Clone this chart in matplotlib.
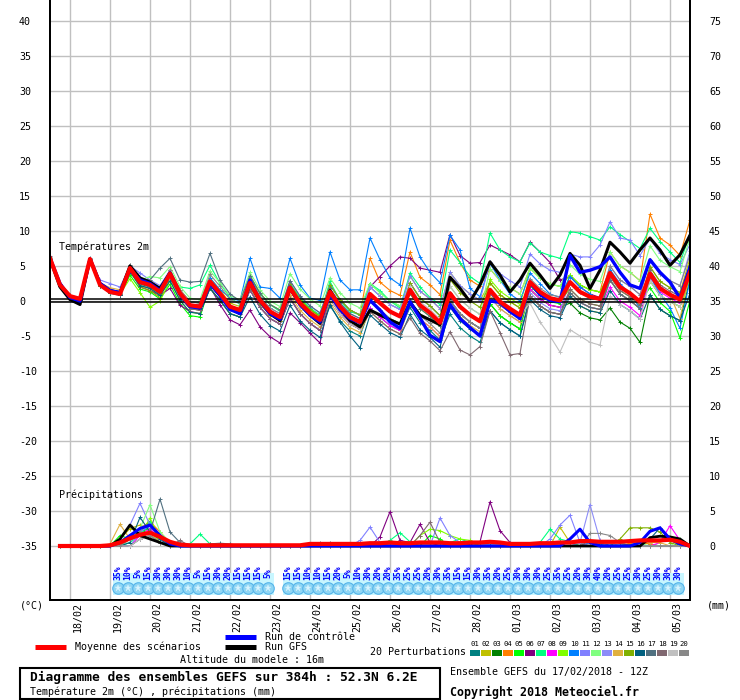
import matplotlib
matplotlib.use('Agg')
import matplotlib.pyplot as plt
from matplotlib.lines import Line2D
from matplotlib.patches import Rectangle

plt.rcParams['font.family'] = ['DejaVu Sans Mono', 'DejaVu Sans']

# ---------------- data ----------------
dates = ['18/02', '19/02', '20/02', '21/02', '22/02', '23/02', '24/02', '25/02',
         '26/02', '27/02', '28/02', '01/03', '02/03', '03/03', '04/03', '05/03']

member_colors = ['#008080', '#c0c000', '#008000', '#ff8000', '#00ff00', '#800080',
                 '#00ff80', '#ff00ff', '#80ff00', '#0080ff', '#8080ff', '#80ff80',
                 '#8c8cf8', '#e0b040', '#80b000', '#006080', '#507080', '#806870',
                 '#c0c0c0', '#888888']

# temperature, every 6 h from 17/02 12Z to 05/03 12Z (65 values)
t_mean = [6.1, 2.3, 0.7, 0.3, 6.0, 2.3, 1.3, 1.0, 4.7, 2.7, 2.3, 1.3, 3.9, 1.1, -0.6, -0.8,
          2.8, 1.1, -0.8, -1.3, 2.6, 0.1, -1.5, -2.3, 1.9, -0.3, -1.7, -2.7, 1.3, -0.8, -2.3, -3.0,
          1.0, -0.3, -1.5, -2.2, 1.6, -0.6, -1.7, -3.1, 1.1, -0.8, -2.0, -2.9, 1.6, -0.1, -1.1, -2.0,
          2.7, 1.3, 0.4, 0.1, 2.7, 1.3, 0.6, 0.3, 4.0, 2.0, 1.1, -0.1, 3.9, 1.8, 0.9, 0.2, 4.1]
t_ctrl = [6.1, 2.5, 0.5, 0.0, 6.0, 2.5, 1.5, 1.2, 4.5, 3.0, 2.5, 1.5, 4.0, 1.0, -0.8, -1.0,
          2.5, 0.8, -1.2, -1.8, 3.0, 0.0, -1.8, -2.6, 2.0, -0.5, -2.0, -3.0, 1.0, -1.2, -2.5, -3.1,
          0.1, -1.3, -3.0, -3.9, -0.1, -2.4, -4.9, -5.8, -0.5, -2.5, -3.8, -5.0, 0.0, -0.2, -1.5, -2.5,
          2.6, 0.9, 0.1, -0.1, 6.5, 4.1, 4.4, 4.9, 6.3, 4.1, 2.3, 1.8, 5.9, 4.1, 2.7, 0.4, 4.9]
t_gfs = [6.0, 2.0, 0.2, -0.5, 6.0, 2.5, 1.5, 1.2, 5.0, 3.3, 2.7, 1.8, 4.0, 1.0, -0.7, -1.0,
         2.6, 0.8, -1.0, -1.8, 2.5, 0.0, -1.8, -2.8, 1.8, -0.5, -2.0, -3.2, 1.5, -1.0, -2.8, -3.7,
         -1.3, -2.0, -2.7, -3.3, -0.2, -2.0, -2.7, -3.4, 3.4, 1.8, -0.1, 2.3, 5.6, 3.7, 1.3, 3.0,
         5.4, 3.7, 1.8, 3.7, 6.8, 5.1, 1.8, 4.4, 8.4, 7.0, 5.4, 7.3, 9.0, 7.3, 5.1, 6.6, 9.4]

t_p01 = [6.0,2.2,0.6,0.2, 5.9,2.2,1.1,0.8, 4.4,2.4,2.0,1.0, 3.4,0.6,-1.1,-1.3, 1.8,0.1,-1.8,-2.3, 1.6,-0.9,-2.5,-3.3, 0.4,-1.8,-3.2,-4.2, -0.7,-2.8,-4.3,-5.0, -1.0,-2.3,-3.5,-4.2, -0.9,-3.1,-4.2,-5.6, -1.9,-3.8,-5.0,-5.9, -1.4,-3.1,-4.1,-5.0, 0.7,-0.7,-1.6,-1.9, 1.2,-0.2,-0.9,-1.2, 3.0,1.0,0.1,-1.1, 2.9,0.8,-0.1,-0.8, 3.1]
t_p02 = [6.2,2.4,0.8,0.4, 6.1,2.4,1.4,1.1, 5.2,3.2,2.8,1.8, 3.9,1.1,-0.6,-0.8, 3.3,1.6,-0.3,-0.8, 3.6,1.1,-0.5,-1.3, 2.4,0.2,-1.2,-2.2, 1.3,-0.8,-2.3,-3.0, 2.0,0.7,-0.5,-1.2, 3.6,1.4,0.3,-1.1, 4.1,2.2,1.0,0.1, 2.6,0.9,-0.1,-1.0, 1.7,0.3,-0.6,-0.9, 0.7,-0.7,-1.4,-1.7, 4.0,2.0,1.1,-0.1, 4.9,2.8,1.9,1.2, 6.1]
t_p03 = [6.1,2.4,0.7,0.2, 6.0,2.3,1.3,1.0, 4.2,2.2,1.8,0.8, 3.9,1.1,-0.6,-0.8, 2.3,0.6,-1.3,-1.8, 1.6,-0.9,-2.5,-3.3, 0.4,-1.8,-3.2,-4.2, 0.3,-1.8,-3.3,-4.0, 1.0,-0.3,-1.5,-2.2, 2.6,0.4,-0.7,-2.1, 0.1,-1.8,-3.0,-3.9, -0.4,-2.1,-3.1,-4.0, 1.7,0.3,-0.6,-0.9, -0.3,-1.7,-2.4,-2.7, -1.0,-3.0,-3.9,-5.9, 0.9,-1.2,-2.1,-2.8, 3.1]
t_p04 = [6.1,2.3,0.8,0.4, 6.0,2.4,1.3,1.1, 5.0,3.0,2.6,1.6, 4.4,1.6,-0.1,-0.3, 2.8,1.1,-0.8,-1.3, 2.1,-0.4,-2.0,-2.8, 1.9,-0.3,-1.7,-2.7, 2.3,0.2,-1.3,-2.0, 6.1,2.7,1.5,0.8, 7.0,3.4,2.3,0.9, 8.7,5.5,3.0,2.1, 4.6,2.9,1.9,1.0, 4.7,3.3,2.4,2.1, 3.7,2.3,1.6,1.3, 7.0,5.0,4.1,2.9, 12.4,9.0,8.0,6.5, 11.6]
t_p05 = [6.0,2.3,0.7,0.3, 6.0,2.2,1.2,0.9, 3.7,1.7,1.3,0.3, 2.4,-0.4,-2.1,-2.3, 2.3,0.6,-1.3,-1.8, 2.6,0.1,-1.5,-2.3, 2.4,0.2,-1.2,-2.2, 2.3,0.2,-1.3,-2.0, 2.5,1.2,0.0,-0.7, 1.6,-0.6,-1.7,-3.1, 0.1,-1.8,-3.0,-3.9, -0.4,-2.1,-3.1,-4.0, 2.2,0.8,-0.1,-0.4, 3.7,2.3,1.6,1.3, 4.0,2.0,1.1,-0.1, 1.9,-0.2,-1.5,-5.3, 0.1]
t_p06 = [6.1,2.2,0.6,0.2, 6.0,2.3,1.2,0.9, 4.3,2.0,1.5,0.8, 1.8,-0.6,-1.5,-1.8, 2.0,-0.5,-2.7,-3.4, -1.3,-3.7,-5.1,-6.0, -1.7,-3.1,-4.6,-6.0, 0.5,-1.5,-3.0,-3.5, 2.0,3.5,5.0,6.3, 6.1,4.7,4.4,4.1, 9.5,6.5,5.4,5.5, 8.0,7.3,6.6,5.6, 8.4,7.0,5.5,3.0, 3.5,2.0,1.0,0.5, 3.0,1.0,0.0,-1.0, 4.0,2.0,1.0,0.5, 5.0]
t_p07 = [6.1,2.4,0.8,0.4, 6.0,2.3,1.3,1.0, 4.5,2.8,2.5,1.5, 3.3,2.0,1.8,2.3, 5.1,2.5,0.5,-0.5, 3.5,1.0,-0.5,-1.5, 2.5,0.5,-1.0,-2.0, 2.8,0.0,-1.5,-2.0, 2.5,1.5,0.0,-1.0, 4.0,2.0,0.5,-0.5, 7.3,5.5,3.5,2.5, 9.7,7.3,6.3,5.6, 8.3,7.0,6.5,6.1, 9.9,9.7,9.2,8.7, 10.6,9.5,8.5,7.5, 10.4,8.5,7.0,5.5, 9.5]
t_p08 = [6.1,2.3,0.7,0.3, 6.0,2.3,1.3,1.0, 5.0,2.7,2.2,1.3, 4.5,0.6,-1.1,-1.3, 2.3,0.6,-1.3,-1.8, 1.6,-0.9,-2.5,-3.3, 0.4,-1.8,-3.2,-4.2, 0.3,-1.8,-3.3,-4.0, -1.0,-2.3,-3.5,-4.2, -0.4,-2.6,-3.7,-5.1, 0.1,-1.8,-3.0,-3.9, 1.1,-0.6,-1.6,-2.5, 1.7,0.3,-0.6,-0.9, 1.2,-0.2,-0.9,-1.2, 2.0,0.0,-0.9,-2.1, 3.4,1.3,0.4,-0.3, 4.1]
t_p09 = [6.0,2.3,0.6,0.3, 6.0,2.2,1.2,1.0, 3.2,1.2,-0.9,0.0, 2.9,0.1,-1.6,-1.8, 2.8,1.1,-0.8,-1.3, 3.6,1.1,-0.5,-1.3, 2.4,0.2,-1.2,-2.2, 1.3,-0.8,-2.3,-3.0, 0.0,-1.3,-2.5,-3.2, 1.1,-1.1,-2.2,-3.6, 1.1,-0.8,-2.0,-2.9, 3.1,1.4,0.4,-0.5, 4.7,3.3,2.4,2.1, 3.7,2.3,1.6,1.3, 4.0,2.0,1.1,-0.1, 2.9,0.8,-0.1,-0.8, 3.1]
t_p10 = [6.0,2.3,0.7,0.3, 6.1,2.4,1.4,1.1, 5.0,3.0,2.5,1.5, 4.0,1.0,-0.5,-0.5, 3.3,1.6,0.5,0.0, 6.1,2.0,1.8,0.4, 6.1,2.3,0.4,0.1, 7.0,3.0,1.6,1.6, 9.0,5.9,3.3,2.3, 10.4,6.3,4.1,2.6, 9.4,7.3,1.8,0.6, 5.4,3.0,1.0,0.0, 4.0,2.5,1.0,0.5, 3.5,2.0,1.0,0.0, 4.5,2.5,1.0,-1.0, 3.5,1.0,-1.0,-3.9, 3.0]
t_p11 = [6.2,2.4,0.8,0.5, 6.0,3.0,2.5,2.0, 5.0,4.0,3.0,2.2, 4.4,1.6,-0.1,-0.3, 2.8,1.1,-0.8,-1.3, 3.1,0.6,-1.0,-1.8, 2.9,0.7,-0.7,-1.7, 2.3,0.2,-1.3,-2.0, 2.0,0.7,-0.5,-1.2, 3.6,1.4,0.3,-1.1, 4.1,2.2,1.0,0.1, 5.6,3.9,2.9,2.0, 6.7,5.3,4.4,4.1, 6.7,6.3,6.3,8.0, 11.3,9.0,8.7,6.5, 8.9,6.8,5.9,5.2, 8.1]
t_p12 = [6.1,2.3,0.7,0.3, 6.0,2.3,1.3,1.0, 4.2,3.0,3.5,3.3, 4.9,2.1,0.4,0.2, 4.3,2.6,0.7,0.2, 4.1,1.6,0.0,-0.8, 3.9,1.7,0.3,-0.7, 3.3,1.2,-0.3,-1.0, 2.5,1.2,0.0,-0.7, 1.6,-0.6,-1.7,-3.1, 2.1,0.2,-1.0,-1.9, 4.6,2.9,1.9,1.0, 4.7,3.3,2.4,2.1, 5.2,3.8,3.1,2.8, 7.0,5.0,4.1,2.9, 7.9,5.8,4.9,4.2, 9.1]
t_p13 = [6.0,2.2,0.7,0.3, 6.0,2.6,1.6,1.3, 5.2,3.2,2.8,1.8, 3.9,1.1,-0.6,-0.8, 2.3,0.6,-1.3,-1.8, 2.1,-0.4,-2.0,-2.8, 1.9,-0.3,-1.7,-2.7, 1.8,-0.3,-1.8,-2.5, 2.0,0.7,-0.5,-1.2, 2.6,0.4,-0.7,-2.1, 1.1,-0.8,-2.0,-2.9, 0.6,-1.1,-2.1,-3.0, 1.2,-0.2,-1.1,-1.4, 2.7,1.3,0.6,0.3, 5.0,3.0,2.1,0.9, 5.9,3.8,2.9,2.2, 7.1]
t_p14 = [6.1,2.3,0.8,0.3, 6.0,2.6,1.9,1.6, 4.2,2.2,1.8,0.8, 4.4,1.6,-0.1,-0.3, 2.8,1.1,-0.8,-1.3, 2.1,-0.4,-2.0,-2.8, 0.9,-1.3,-2.7,-3.7, -0.2,-2.3,-3.8,-4.5, -1.5,-2.8,-4.0,-4.7, -0.4,-2.6,-3.7,-5.1, -0.4,-2.3,-3.5,-4.4, 0.6,-1.1,-2.1,-3.0, 0.7,-0.7,-1.6,-1.9, 1.2,-0.2,-0.9,-1.2, 3.0,1.0,0.1,-1.1, 3.9,1.8,0.9,-2.5, 4.1]
t_p15 = [6.1,2.3,0.7,0.3, 6.0,2.3,1.3,1.0, 4.7,2.0,1.5,0.5, 3.4,0.6,-1.1,-1.3, 1.8,0.1,-1.8,-2.3, 2.1,-0.4,-2.0,-2.8, 2.4,0.2,-1.2,-2.2, 2.3,0.2,-1.3,-2.0, 1.0,-0.3,-1.5,-2.2, 2.6,0.4,-0.7,-2.1, 3.1,1.2,0.0,-0.9, 2.6,0.9,-0.1,-1.0, 2.7,1.3,0.4,0.1, 1.7,0.3,-0.4,-0.7, 3.5,1.5,0.6,-0.6, 4.9,2.8,1.9,1.2, 5.1]
t_p16 = [6.0,2.2,0.6,0.2, 6.0,2.2,1.2,0.9, 4.2,2.2,1.8,0.8, 2.9,0.1,-1.6,-1.8, 1.8,0.1,-1.8,-2.3, 0.6,-1.9,-3.5,-4.3, -0.6,-2.8,-4.2,-5.2, -0.5,-3.0,-5.0,-6.7, -2.0,-3.3,-4.5,-5.2, -1.9,-4.1,-5.2,-6.6, -0.9,-2.8,-4.0,-4.9, -1.4,-3.1,-4.1,-5.0, 0.2,-1.2,-2.1,-2.4, 0.7,-0.7,-1.4,-1.7, 1.5,-0.5,-1.4,-2.6, 0.9,-1.2,-2.1,-2.8, 1.1]
t_p17 = [6.5,2.5,0.7,0.3, 6.0,2.3,1.3,1.0, 5.0,3.2,3.0,4.7, 6.1,3.0,2.7,2.8, 6.8,3.0,1.0,0.0, 3.6,1.1,-0.5,-1.3, 2.9,0.7,-0.7,-1.7, 1.8,-0.3,-1.8,-2.5, 1.0,-0.3,-1.5,-2.2, 1.1,-1.1,-2.2,-3.6, 0.1,-1.8,-3.0,-3.9, 1.1,-0.6,-1.6,-2.5, 0.7,-0.7,-1.6,-1.9, 1.2,-0.2,-0.9,-1.2, 3.0,1.0,0.1,-1.1, 3.9,1.8,0.9,0.2, 4.1]
t_p18 = [6.1,2.3,0.7,0.3, 6.0,2.3,1.3,1.0, 4.7,2.7,2.3,1.3, 3.4,0.6,-1.1,-1.3, 2.8,1.1,-0.8,-1.3, 1.6,-0.9,-2.5,-3.3, 0.4,-1.8,-3.2,-4.2, 0.3,-1.8,-3.3,-4.0, -1.5,-2.8,-4.0,-4.7, -2.4,-4.6,-5.7,-7.1, -4.4,-7.0,-7.7,-6.5, -1.4,-4.5,-7.7,-7.5, 0.7,-0.7,-1.6,-1.9, 1.7,0.3,-0.4,-0.7, 3.5,1.5,0.6,-0.6, 4.4,2.3,1.4,0.7, 4.6]
t_p19 = [6.2,2.4,0.8,0.4, 6.1,2.4,1.4,1.1, 5.2,3.2,2.8,1.8, 3.9,1.1,-0.6,-0.8, 2.8,1.1,-0.8,-1.3, 2.6,0.1,-1.5,-2.3, 1.4,-0.8,-2.2,-3.2, 0.3,-1.8,-3.3,-4.0, 1.0,-0.3,-1.5,-2.2, 2.1,-0.1,-1.2,-2.6, 2.1,0.2,-1.0,-1.9, 1.6,-0.1,-1.1,-2.0, -0.3,-3.0,-5.0,-7.3, -4.1,-5.0,-5.9,-6.3, 0.7,-0.5,-1.4,-2.6, 2.9,0.8,-0.1,-0.8, 4.1]
t_p20 = [6.3,2.5,0.8,0.4, 6.0,2.3,1.3,1.0, 5.2,3.2,2.8,1.8, 4.4,1.6,-0.1,-0.3, 3.8,2.1,0.2,-0.3, 3.1,0.6,-1.0,-1.8, 1.9,-0.3,-1.7,-2.7, 0.8,-1.3,-2.8,-3.5, 0.0,-1.3,-2.5,-3.2, 0.1,-2.1,-3.2,-4.6, 0.1,-1.8,-3.0,-3.9, 1.6,-0.1,-1.1,-2.0, 3.2,1.8,0.9,0.6, 2.7,1.3,0.6,0.3, 5.0,3.0,2.1,0.9, 5.9,3.8,2.9,2.2, 6.6]

# 6-hourly precipitation (mm), 17/02 18Z .. 05/03 12Z (64 values)
p_mean = [0,0,0,0,0,0.1,0.5,1.1, 1.6,1.9,1.3,0.6,0.2,0.1,0.1,0.1, 0.1,0.1,0.1,0.1,0.1,0.1,0.1,0.1,
          0.1,0.3,0.3,0.3,0.3,0.3,0.3,0.4, 0.4,0.5,0.4,0.4,0.5,0.5,0.5,0.4, 0.4,0.5,0.5,0.6,0.5,0.3,0.3,0.3,
          0.4,0.4,0.5,0.5,0.7,0.7,0.6,0.6, 0.6,0.7,0.8,0.8,0.8,0.9,0.6,0.0]
p_ctrl = [0,0,0,0,0,0,0.5,1.5, 2.5,3.0,1.5,0.3,0,0,0,0, 0,0,0,0,0,0,0,0, 0,0,0,0,0,0,0,0,
          0,0,0,0,0,0,0,0, 0,0,0,0,0,0,0,0, 0,0,0,1.0,2.4,0.5,0,0, 0,0,0.5,2.1,2.6,1.0,0.3,0]
p_gfs = [0,0,0,0,0,0,1.0,3.0, 1.5,1.0,0.5,0,0,0,0,0, 0,0,0,0,0,0,0,0, 0,0,0,0,0,0,0,0,
         0,0,0,0,0,0,0,0, 0,0,0,0,0,0,0,0, 0,0,0,0,0,0,0,0, 0,0,0,1.2,1.4,1.3,1.0,0]
p_p01 = [0,0,0,0,0,0,0.5,1.5, 2.0,3.0,1.0,0.3,0,0,0,0, 0,0,0,0,0,0,0,0, 0,0,0,0,0,0,0,0, 0,0,0,0,0,0,0,0, 0.3,0,0,0,0,0,0,0, 0,0,0,0,0,0,0,0, 0,0,0.5,0.3,0,0,0,0]
p_p02 = [0,0,0,0,0,0,1.0,2.5, 3.0,2.0,0.5,0,0,0,0,0, 0,0,0,0,0,0,0,0, 0,0,0,0,0,0,0,0, 0,0,0,0,0,0,0,0, 0,0,0,0,0,0,0,0, 0,0,2.7,0.5,0,0,0,0, 0,0.3,0,0,0,0,0,0]
p_p03 = [0,0,0,0,0,0,0,1.2, 2.5,1.5,0.5,0,0,0,0,0, 0,0,0,0,0,0,0,0, 0,0,0,0,0,0,0,0, 0,0,0,0,0,0,0,0, 0,0,0,0,0,0.2,0.2,0.2, 0.3,0,0,0,0,0,0,0, 0,0,0,0,0,0,0,0]
p_p04 = [0,0,0,0,0,0,0.5,1.5, 2.5,3.5,2.0,0.5,0,0,0,0, 0,0,0,0,0,0,0,0, 0,0,0,0,0,0,0,0, 0,0,0,0,0,0,0,0, 0,0,0,0,0,0,0,0, 0,0,0,0,0,0,0,0, 0,0.4,0.5,0.3,0,0,0,0]
p_p05 = [0,0,0,0,0,0,1.5,1.0, 2.0,2.5,0.5,0,0,0,0,0, 0,0,0,0,0,0,0,0, 0,0,0,0,0,0,0,0, 0,0,0,0,0,1.5,1.0,0, 0,0,0,0,0,0,0,0, 0,0,0,0,0,0,0,0, 0,0,0,0,0,0,0,0]
p_p06 = [0,0,0,0,0,0,0,1.0, 2.0,3.5,1.5,0,0,0,0,0, 0,0,0,0,0,0,0,0, 0,0,0,0,0,0,0,0, 1.3,4.9,0.8,0.5,3.1,0.5,0,0, 0,0.3,0.6,6.3,2.2,0.5,0,0, 0,0,0,0,0,0,0,0, 0,0,0,0,0,0,0,0]
p_p07 = [0,0,0,0,0,0,0,0.5, 1.5,3.5,1.0,0.3,0,0.3,1.7,0.3, 0,0,0,0,0,0,0,0, 0,0,0,0,0,0,0,0, 0,0.8,1.9,0.6,0,0,0,0.5, 1.0,0.5,0,0,0,0,0,0, 0.5,2.4,1.0,0.6,0,0,0,0, 0,0,0,0,0,0,0,0]
p_p08 = [0,0,0,0,0,0,0,0, 1.5,2.5,1.0,0,0,0,0,0, 0,0,0,0,0,0,0,0, 0,0,0,0,0,0,0,0, 0,0,0,0,0,0,0,0, 0,0,0,0,0,0,0,0, 0,0,0,0,0,0,0,0, 0,0,0,0,0.5,2.9,0.8,0]
p_p09 = [0,0,0,0,0,0,0,1.0, 1.5,4.0,1.0,0,0,0,0,0, 0,0,0,0,0,0,0,0, 0,0,0,0,0,0,0,0, 0,0,0,0,1.5,2.4,2.2,1.5, 1.0,0.8,0,0,0,0,0,0, 0,0,0,0,0,0,0,0, 0,0,0,0,0,0,0,0]
p_p10 = [0,0,0,0,0,0,0.3,1.0, 2.0,2.8,1.5,0.5,0,0,0,0, 0,0,0,0,0,0,0,0, 0,0,0,0,0,0,0,0, 0,0,0,0,0,0,0,0, 0,0,0,0,0,0,0,0, 0,0,0,0,0,0.5,0.3,0, 0,0,0,0,0,0,0,0]
p_p11 = [0,0,0,0,0,0,1.0,3.0, 6.1,3.0,1.0,0,0,0,0,0, 0,0,0,0,0,0,0,0, 0,0,0,0,0,0,0.8,2.7, 0.5,0,0,0,0,0,4.0,1.5, 0.5,0,0,0,0,0,0,0, 0,1.0,3.0,4.4,0.5,0,0,0, 0,0,0,0,0,0,0,0]
p_p12 = [0,0,0,0,0,0,0,1.0, 2.5,5.9,2.0,0.5,0,0,0,0, 0,0,0,0,0,0,0,0, 0,0,0,0,0,0,0,0, 0,0,0,0,0,0,0,0, 0,0,0,0,0,0,0,0, 0,0,0,0,0,0,0,0, 0,0.8,0.4,0,0,0,1.0,0]
p_p13 = [0,0,0,0,0,0,0,0, 2.0,3.0,1.0,0,0,0,0,0, 0,0,0,0,0,0,0,0, 0,0,0,0,0,0,0,0, 0,0,0,0,0,0,0,0, 0,0,0,0,0,0,0,0, 0,0,0,0,0.5,5.9,0.8,0, 0,0,0,0,0,0,0,0]
p_p14 = [0,0,0,0,0,0.3,3.1,1.0, 1.5,2.0,0.5,0,0,0,0,0, 0,0,0,0,0,0,0,0, 0,0,0,0,0,0,0,0, 0,0,0,0,0,0,0,0, 0,0,0,0,0,0,0,0, 0,0,0,0,0,0,0,0, 0,0,0.5,0.5,0.5,0,0,0]
p_p15 = [0,0,0,0,0,0,0,1.5, 2.0,1.5,0.5,0,0,0,0,0, 0,0,0,0,0,0,0,0, 0,0,0,0,0,0,0,0, 0,0,0,0,0,0,0,0, 0,0,0,0,0,0,0,0, 0,0,0,0,0,0,0,0, 1.0,2.6,2.6,2.6,2.0,0.5,0,0]
p_p16 = [0,0,0,0,0,0,0,0.5, 4.1,2.0,1.0,0,0,0,0,0, 0,0,0,0,0,0,0,0, 0,0,0,0,0,0,0,0, 0,0,0,0,0,0,0,0, 0,0,0,0,0,0,0,0, 0,0,0,0,0,0,0,0, 0,0,0,1.0,2.6,1.0,0,0]
p_p17 = [0,0,0,0,0,0,0,0, 1.0,2.0,6.7,2.0,0.5,0,0,0.3, 0.4,0.3,0,0,0,0,0,0, 0,0,0.4,0.5,0.3,0,0,0, 0,0,0,0,0,0,0,0, 0,0,0,0,0,0,0,0, 0,0,0,0,0,0,0,0, 0,0,0,0,0,0,0,0]
p_p18 = [0,0,0,0,0,0,0,0, 1.0,1.5,0.5,0,0.8,0,0,0, 0,0,0,0,0,0,0,0, 0,0,0,0,0,0,0,0, 0,0,0,0,1.5,3.4,0.5,0, 0,0,0,0,0,0,0,0, 0,0,0,0,0,0.8,0.5,0, 0,0,0,0,0,0,0,0]
p_p19 = [0,0,0,0,0,0,0,0, 1.0,1.5,0.5,0,0,0,0,0, 0,0,0,0,0,0,0,0, 0,0,0,0,0,0,0,0, 0,0,0,0,0,0,0,0, 0,0,0,0,0,0,0,0, 0,0,0,0,0,0,0,0.5, 0,0,0,0,0,0,0,0]
p_p20 = [0,0,0,0,0,0,0,1.0, 2.0,1.5,0.5,0,0,0,0,0, 0,0,0,0,0,0,0,0, 0,0,0,0,0,0,0,0, 0,0,0,0,0,0,0,0, 0,0,0,0,0,0,0,0, 0,0,0,0,0,1.8,1.8,1.5, 0.5,0,0,0,0,0,0,0]

temp_members = [t_p01, t_p02, t_p03, t_p04, t_p05, t_p06, t_p07, t_p08, t_p09, t_p10,
                t_p11, t_p12, t_p13, t_p14, t_p15, t_p16, t_p17, t_p18, t_p19, t_p20]
prec_members = [p_p01, p_p02, p_p03, p_p04, p_p05, p_p06, p_p07, p_p08, p_p09, p_p10,
                p_p11, p_p12, p_p13, p_p14, p_p15, p_p16, p_p17, p_p18, p_p19, p_p20]

# probability of precipitation labels (two bands)
prob_band1 = ['35%', '10%', '5%', '15%', '30%', '30%', '30%', '10%', '5%', '15%', '30%',
              '20%', '15%', '15%', '15%', '5%']
prob_band2 = ['15%', '15%', '10%', '10%', '15%', '20%', '5%', '10%', '30%', '20%', '20%', '35%',
              '25%', '25%', '20%', '30%', '35%', '15%', '15%', '30%', '35%', '20%', '25%', '30%',
              '30%', '30%', '25%', '35%', '25%', '20%', '30%', '40%', '20%', '25%', '25%', '30%',
              '25%', '30%', '30%', '30%']

for a in temp_members + [t_mean, t_ctrl, t_gfs]:
    assert len(a) == 65
for a in prec_members + [p_mean, p_ctrl, p_gfs]:
    assert len(a) == 64

t_hours = list(range(0, 385, 6))
p_hours = list(range(6, 385, 6))

# ---------------- figure ----------------
W, H = 740, 700
fig = plt.figure(figsize=(W / 100, H / 100), dpi=100)
YTOP, YBOT = 43.0, -42.714
ax = fig.add_axes([50 / W, 100 / H, 640 / W, 600 / H])
ax.set_xlim(0, 384)
ax.set_ylim(YBOT, YTOP)
ax2 = ax.twinx()
ax2.set_ylim(YBOT + 35, YTOP + 35)
ax2.set_xlim(0, 384)

for a in (ax, ax2):
    a.spines['top'].set_visible(False)
    for s in ('left', 'right', 'bottom'):
        a.spines[s].set_linewidth(1.4)
        a.spines[s].set_color('black')

grid_c = '#c0c0c0'
for v in range(-35, 41, 5):
    ax.axhline(v, color=grid_c, lw=1.0, zorder=0)
for k in range(16):
    ax.axvline(12 + 24 * k, color=grid_c, lw=1.0, zorder=0)

# double zero line
ax.axhline(0.29, color='black', lw=1.1, zorder=2.5)
ax.axhline(-0.14, color='black', lw=1.1, zorder=2.5)

# y ticks
ax.set_yticks(range(-35, 41, 5))
ax.set_yticklabels([str(v) for v in range(-35, 41, 5)])
ax.tick_params(axis='y', length=0, pad=22.3, labelsize=7.2)
for lab in ax.get_yticklabels():
    lab.set_horizontalalignment('left')
ax2.set_yticks(range(0, 76, 5))
ax2.set_yticklabels([str(v) for v in range(0, 76, 5)])
ax2.tick_params(axis='y', length=0, pad=13.7, labelsize=7.2)

# x ticks (date labels)
ax.set_xticks([16.5 + 24 * k for k in range(16)])
ax.set_xticklabels(dates, rotation=90, fontsize=7.2)
ax.tick_params(axis='x', length=0, pad=1.4)
ax2.tick_params(axis='x', length=0)

# ensemble members
for col, tv, pv in zip(member_colors, temp_members, prec_members):
    ax.plot(t_hours, tv, color=col, lw=0.8, marker='+', ms=3, mew=0.7, zorder=2)
    ax2.plot(p_hours, pv, color=col, lw=0.8, marker='+', ms=3, mew=0.7, zorder=2)

ax.plot(t_hours, t_gfs, color='black', lw=2.2, zorder=3)
ax.plot(t_hours, t_ctrl, color='#0000ff', lw=2.4, zorder=4)
ax.plot(t_hours, t_mean, color='#ff0000', lw=3.0, zorder=5)
ax2.plot(p_hours, p_gfs, color='black', lw=2.0, zorder=3)
ax2.plot(p_hours, p_ctrl, color='#0000ff', lw=2.2, zorder=4)
ax2.plot(p_hours, p_mean, color='#ff0000', lw=3.0, zorder=5)

# probability bands
band1_h = [42 + 6 * k for k in range(len(prob_band1))]
band2_h = [144 + 6 * k for k in range(len(prob_band2))]
lab_v = (301 - 573) / 7.0
flake_v = (301 - 588) / 7.0
for hs, labs in ((band1_h, prob_band1), (band2_h, prob_band2)):
    x0 = hs[0] - 1.2 - 3.0
    x1 = hs[-1] - 1.2 + 3.6
    ax.add_patch(Rectangle((x0, (301 - 595) / 7.0), x1 - x0, 22 / 7.0,
                           facecolor='#c8f6ff', edgecolor='none', zorder=1))
    fx = [h - 1.2 for h in hs]
    ax.plot(fx, [flake_v] * len(fx), ls='none', marker='o', ms=8.3,
            mfc='#8fd6f4', mec='#55b4ea', mew=0.8, zorder=1.5)
    ax.plot(fx, [flake_v] * len(fx), ls='none', marker='*', ms=5,
            mfc='#d8f4ff', mec='#d8f4ff', mew=0.3, zorder=1.6)
    for h, s in zip(hs, labs):
        ax.text(h - 1.2, lab_v, s, rotation=90, ha='center', va='center',
                color='#0000ff', fontsize=5.9, fontweight='bold', zorder=6)

# in-plot titles
def fxy(x, y):
    return x / W, 1 - y / H

fig.text(*fxy(59, 247), 'Températures 2m', fontsize=7.2, va='center', ha='left')
fig.text(*fxy(59, 495), 'Précipitations', fontsize=7.2, va='center', ha='left')
fig.text(*fxy(20, 606), '(°C)', fontsize=7.2, va='center', ha='left')
fig.text(*fxy(707, 606), '(mm)', fontsize=7.2, va='center', ha='left')

# legend
def fline(x0, x1, y, color, lw):
    fig.add_artist(Line2D([x0 / W, x1 / W], [1 - y / H, 1 - y / H], color=color,
                          lw=lw, transform=fig.transFigure, solid_capstyle='butt'))

fline(35, 66, 647, '#ff0000', 3.6)
fig.text(*fxy(75, 647), 'Moyenne des scénarios', fontsize=7.2, va='center', ha='left')
fline(225, 256, 637, '#0000ff', 3.6)
fig.text(*fxy(265, 637), 'Run de contrôle', fontsize=7.2, va='center', ha='left')
fline(225, 256, 647, 'black', 3.6)
fig.text(*fxy(265, 647), 'Run GFS', fontsize=7.2, va='center', ha='left')
fig.text(*fxy(180, 660), 'Altitude du modele : 16m', fontsize=7.2, va='center', ha='left')

fig.add_artist(Rectangle((20 / W, 1 - 699 / H), 420 / W, 31 / H, transform=fig.transFigure,
                         facecolor='none', edgecolor='black', lw=1.5))
fig.text(*fxy(30, 677), 'Diagramme des ensembles GEFS sur 384h : 52.3N 6.2E',
         fontsize=9.3, fontweight='bold', va='center', ha='left')
fig.text(*fxy(30, 692), 'Température 2m (°C) , précipitations (mm)', fontsize=7.2,
         va='center', ha='left')
fig.text(*fxy(450, 672), 'Ensemble GEFS du 17/02/2018 - 12Z', fontsize=7.2,
         va='center', ha='left')
fig.text(*fxy(450, 692), 'Copyright 2018 Meteociel.fr', fontsize=8.4, fontweight='bold',
         va='center', ha='left')

fig.text(*fxy(370, 652), '20 Perturbations', fontsize=7.2, va='center', ha='left')
for k, col in enumerate(member_colors):
    x = 470 + 11 * k
    fig.add_artist(Rectangle((x / W, 1 - 656 / H), 10 / W, 6 / H, transform=fig.transFigure,
                             facecolor=col, edgecolor='none'))
    fig.text(*fxy(x + 5, 643.5), '%02d' % (k + 1), fontsize=5.2, va='center', ha='center')

fig.savefig('out.png', dpi=100)
